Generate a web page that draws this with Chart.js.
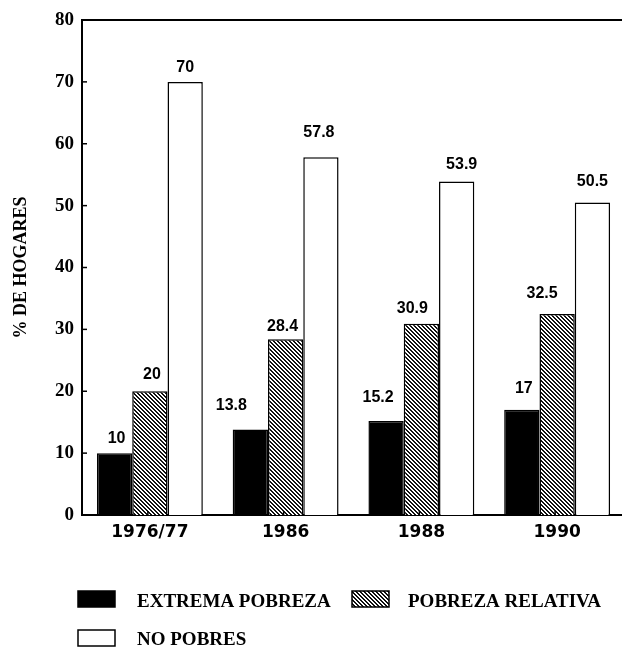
<!DOCTYPE html>
<html>
<head>
<meta charset="utf-8">
<script src="https://cdn.jsdelivr.net/npm/chart.js@4"></script>
<style>
  html, body { margin: 0; padding: 0; overflow: hidden; background: #fff; }
</style>
</head>
<body>
<canvas id="chart" width="640" height="650"></canvas>
<script>
// Household poverty shares by survey year
const categories = ['1976/77', '1986', '1988', '1990'];
const extremaPobreza = [10, 13.8, 15.2, 17];
const pobrezaRelativa = [20, 28.4, 30.9, 32.5];
const noPobres = [70, 57.8, 53.9, 50.5];
const seriesNames = ['EXTREMA POBREZA', 'POBREZA RELATIVA', 'NO POBRES'];
const yAxisTitle = '% DE HOGARES';
const yTickValues = [0, 10, 20, 30, 40, 50, 60, 70, 80];

const SERIF = '"Liberation Serif", "Times New Roman", serif';
const SANS = '"Liberation Sans", Arial, sans-serif';
const WIDE_SANS = '"DejaVu Sans", Verdana, sans-serif';

const canvas = document.getElementById('chart');
const ctx = canvas.getContext('2d');

// Dense "\" hatching for the relative-poverty bars
function hatchPattern() {
  const tile = document.createElement('canvas');
  tile.width = 4; tile.height = 4;
  const t = tile.getContext('2d');
  t.fillStyle = '#fff';
  t.fillRect(0, 0, 4, 4);
  t.fillStyle = '#111';
  for (let i = 0; i < 4; i++) {
    t.fillRect(i, i, 1, 1);
    t.fillRect((i + 1) % 4, i, 1, 1);
  }
  return ctx.createPattern(tile, 'repeat');
}
const hatch = hatchPattern();

// Where each value label sits, relative to the top centre of its bar
const labelNudge = [
  [[2, -15], [-19, -24], [-8, -23], [2, -21]],
  [[2, -17], [-3, -13], [-9, -15], [-15, -20]],
  [[0, -14], [-2, -25], [5, -17], [0, -21]]
];

const valueLabels = {
  id: 'valueLabels',
  afterDatasetsDraw(chart) {
    const c = chart.ctx;
    c.save();
    c.fillStyle = '#000';
    c.font = 'bold 16px ' + SANS;
    c.textAlign = 'center';
    c.textBaseline = 'middle';
    chart.data.datasets.forEach((ds, di) => {
      chart.getDatasetMeta(di).data.forEach((bar, i) => {
        const [dx, dy] = labelNudge[di][i];
        c.fillText(String(ds.data[i]), bar.x + dx, bar.y + dy);
      });
    });
    c.restore();
  }
};

// Top frame line plus short inward tick marks on both axes
const frame = {
  id: 'frame',
  afterDraw(chart) {
    const c = chart.ctx;
    const a = chart.chartArea;
    c.save();
    c.strokeStyle = '#000';
    c.lineWidth = 2;
    c.beginPath();
    c.moveTo(a.left - 1, a.top);
    c.lineTo(a.right, a.top);
    c.stroke();
    c.lineWidth = 1.5;
    const y = chart.scales.y;
    y.ticks.forEach(t => {
      const py = y.getPixelForValue(t.value);
      c.beginPath();
      c.moveTo(a.left, py);
      c.lineTo(a.left + 5, py);
      c.stroke();
    });
    const x = chart.scales.x;
    categories.forEach((_, i) => {
      const px = x.getPixelForValue(i) - 2;
      c.beginPath();
      c.moveTo(px, a.bottom);
      c.lineTo(px, a.bottom - 4);
      c.stroke();
    });
    c.restore();
  }
};

// Legend under the plot: two rows of swatches with serif captions
const legendBlock = {
  id: 'legendBlock',
  afterDraw(chart) {
    const c = chart.ctx;
    const items = [
      { box: [78, 591, 37, 16], tx: 137, ty: 602 },
      { box: [352, 591, 37, 16], tx: 408, ty: 602 },
      { box: [78, 630, 37, 16], tx: 137, ty: 640 }
    ];
    c.save();
    c.font = 'bold 19px ' + SERIF;
    c.textBaseline = 'middle';
    c.textAlign = 'left';
    chart.data.datasets.forEach((ds, i) => {
      const it = items[i];
      const [bx, by, bw, bh] = it.box;
      c.fillStyle = ds.backgroundColor;
      c.fillRect(bx, by, bw, bh);
      c.strokeStyle = '#000';
      c.lineWidth = 1.5;
      c.strokeRect(bx, by, bw, bh);
      c.fillStyle = '#000';
      c.fillText(ds.label, it.tx, it.ty);
    });
    c.restore();
  }
};

const barStyle = {
  borderColor: '#000',
  borderWidth: 1.5,
  categoryPercentage: 0.78,
  barPercentage: 1.0
};

new Chart(ctx, {
  type: 'bar',
  data: {
    labels: categories,
    datasets: [
      Object.assign({ label: seriesNames[0], data: extremaPobreza, backgroundColor: '#000' }, barStyle),
      Object.assign({ label: seriesNames[1], data: pobrezaRelativa, backgroundColor: hatch }, barStyle),
      Object.assign({ label: seriesNames[2], data: noPobres, backgroundColor: '#fff' }, barStyle)
    ]
  },
  options: {
    responsive: false,
    animation: false,
    devicePixelRatio: 1,
    layout: { padding: { top: 20, right: 15, bottom: 95, left: 0 } },
    plugins: {
      legend: { display: false },
      tooltip: { enabled: false }
    },
    scales: {
      x: {
        grid: { display: false, drawTicks: false },
        border: { display: true, color: '#000', width: 2 },
        ticks: {
          color: '#000',
          padding: 7,
          font: { family: WIDE_SANS, weight: 'bold', size: 17 }
        },
        afterFit(s) { s.height = 40; }
      },
      y: {
        min: 0,
        max: 80,
        grid: { display: false, drawTicks: false },
        border: { display: true, color: '#000', width: 2 },
        afterBuildTicks(s) { s.ticks = yTickValues.map(v => ({ value: v })); },
        ticks: {
          color: '#000',
          padding: 8,
          font: { family: SERIF, weight: 'bold', size: 19 }
        },
        title: {
          display: true,
          text: yAxisTitle,
          color: '#000',
          padding: { top: 11, bottom: 0 },
          font: { family: SERIF, weight: 'bold', size: 18 }
        },
        afterFit(s) { s.width = 82; }
      }
    }
  },
  plugins: [valueLabels, frame, legendBlock]
});
</script>
</body>
</html>
